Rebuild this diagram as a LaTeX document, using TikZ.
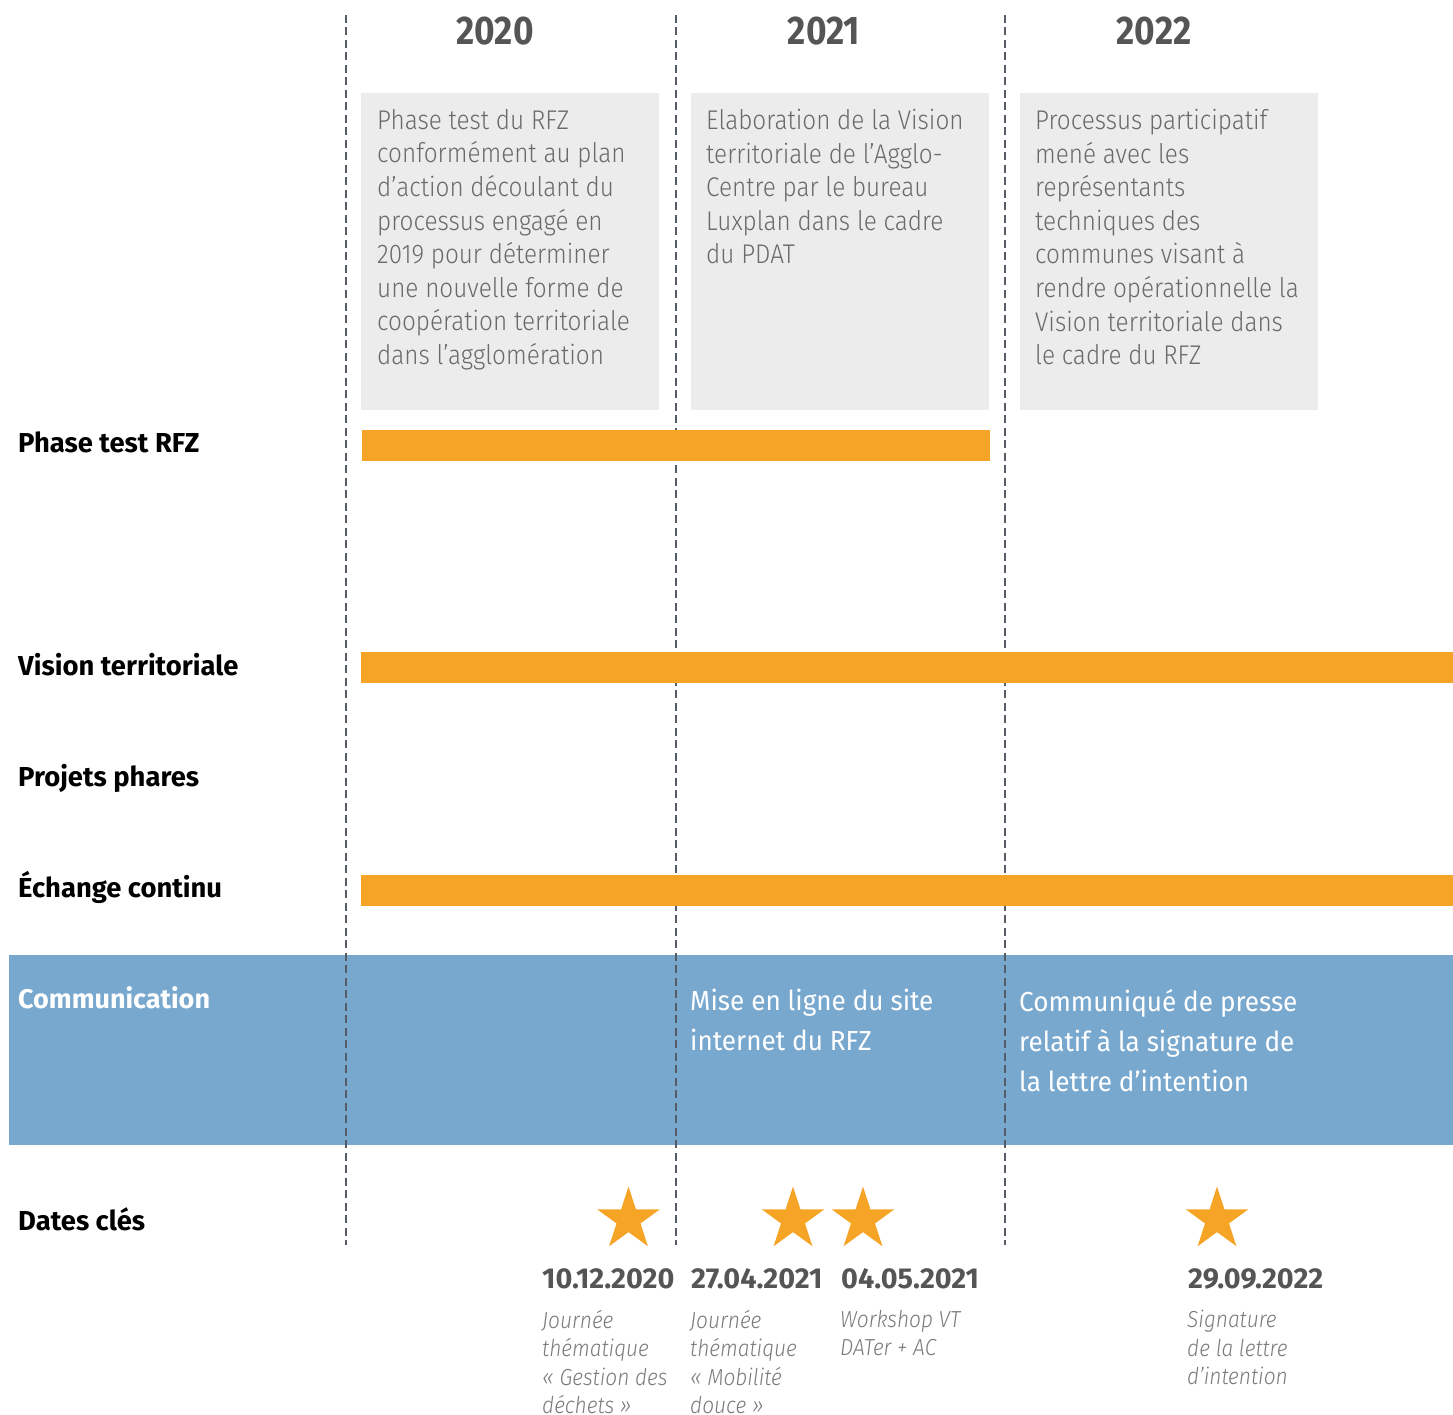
\documentclass[tikz,border=0pt]{standalone}
\usepackage{fontspec}
\setmainfont{Fira Sans}
\newfontfamily\yearf{Fira Sans}[FakeStretch=0.88]
\newfontfamily\commf{Fira Sans}[FakeStretch=0.95]
\IfFontExistsTF{Fira Sans Light}{%
  \IfFontExistsTF{Fira Sans Light Italic}{%
    \newfontfamily\lightf{Fira Sans Light}[FakeStretch=0.9,ItalicFont={Fira Sans Light Italic}]}{%
    \newfontfamily\lightf{Fira Sans Light}[FakeStretch=0.9]}}{%
  \newfontfamily\lightf{Fira Sans}[FakeStretch=0.9]}
\usetikzlibrary{shapes.geometric}
\definecolor{dashc}{HTML}{565B68}
\definecolor{yearc}{HTML}{555555}
\definecolor{boxc}{HTML}{ECECEC}
\definecolor{boxtxtc}{HTML}{6A6A6A}
\definecolor{orangec}{HTML}{F6A425}
\definecolor{bluec}{HTML}{79A8CF}
\definecolor{datec}{HTML}{555555}
\definecolor{descc}{HTML}{7A7A7A}
\begin{document}
\begin{tikzpicture}[x=1pt,y=-1pt,
  yearlbl/.style={font=\yearf\fontsize{40}{48}\selectfont\bfseries, text=yearc, inner sep=0, anchor=base},
  graybox/.style={fill=boxc, draw=none, anchor=north west, inner sep=0},
  boxtxt/.style={font=\lightf\fontsize{27}{33.6}\selectfont, text=boxtxtc, align=left, anchor=north west, inner sep=0},
  rowlbl/.style={font=\fontsize{27.4}{34}\selectfont\bfseries, text=black, anchor=base west, inner sep=0},
  bar/.style={fill=orangec, draw=none, anchor=north west, inner sep=0, minimum height=31pt},
  band/.style={fill=bluec, draw=none, anchor=north west, inner sep=0},
  comm/.style={font=\commf\fontsize{27.5}{40}\selectfont, text=white, align=left, anchor=north west, inner sep=0},
  yline/.style={draw=dashc, line width=2.8pt, dash pattern=on 8pt off 4.5pt},
  starmark/.style={star, star points=5, star point ratio=2.618, minimum size=66pt, inner sep=0, fill=orangec, draw=none},
  datelbl/.style={font=\fontsize{28.8}{34}\selectfont\bfseries, text=datec, anchor=base west, inner sep=0},
  desc/.style={font=\lightf\itshape\fontsize{23.2}{28.5}\selectfont, text=descc, align=left, anchor=north west, inner sep=0}
]
\useasboundingbox (0,0) rectangle (1453,1415);

% communication band (under the dashed lines)
\node[band, minimum width=1444pt, minimum height=190pt] (commband) at (9,955) {};

% dashed year separators
\coordinate (l1t) at (346,15);  \coordinate (l1b) at (346,1245);
\coordinate (l2t) at (676,15);  \coordinate (l2b) at (676,1245);
\coordinate (l3t) at (1005,15); \coordinate (l3b) at (1005,1245);
\draw[yline] (l1t) -- (l1b);
\draw[yline] (l2t) -- (l2b);
\draw[yline] (l3t) -- (l3b);

% years
\node[yearlbl] (y2020) at (495,45) {2020};
\node[yearlbl] (y2021) at (824,45) {2021};
\node[yearlbl] (y2022) at (1154,45) {2022};

% grey boxes
\node[graybox, minimum width=298pt, minimum height=317pt] (box1) at (361,93) {};
\node[graybox, minimum width=298pt, minimum height=317pt] (box2) at (691,93) {};
\node[graybox, minimum width=298pt, minimum height=317pt] (box3) at (1020,93) {};
\node[boxtxt] (t1) at (377,109) {Phase test du RFZ\\conformément au plan\\d’action découlant du\\processus engagé en\\2019 pour déterminer\\une nouvelle forme de\\coopération territoriale\\dans l’agglomération};
\node[boxtxt] (t2) at (706,109) {Elaboration de la Vision\\territoriale de l’Agglo-\\Centre par le bureau\\Luxplan dans le cadre\\du PDAT};
\node[boxtxt] (t3) at (1035,109) {Processus participatif\\mené avec les\\représentants\\techniques des\\communes visant à\\rendre opérationnelle la\\Vision territoriale dans\\le cadre du RFZ};

% row labels
\node[rowlbl] (r1) at (18,452) {Phase test RFZ};
\node[rowlbl] (r2) at (18,675) {Vision territoriale};
\node[rowlbl] (r3) at (18,786) {Projets phares};
\node[rowlbl] (r4) at (18,897) {Échange continu};
\node[rowlbl, text=white, font=\fontsize{27}{34}\selectfont\bfseries] (r5) at (18,1008) {Communication};
\node[rowlbl] (r6) at (18,1230) {Dates clés};

% orange bars
\node[bar, minimum width=628pt] (bar1) at (362,430) {};
\node[bar, minimum width=1092pt] (bar2) at (361,652) {};
\node[bar, minimum width=1092pt] (bar3) at (361,875) {};

% communication texts
\node[comm] (c1) at (690,989) {Mise en ligne du site\\internet du RFZ};
\node[comm] (c2) at (1019,989) {Communiqué de presse\\relatif à la signature de\\la lettre d’intention};

% key dates
\node[starmark] (s1) at (628.5,1219.5) {};
\node[starmark] (s2) at (793,1219.5) {};
\node[starmark] (s3) at (863,1219.5) {};
\node[starmark] (s4) at (1217,1219.5) {};

\node[datelbl] (d1) at (542,1288) {10.12.2020};
\node[datelbl] (d2) at (691,1288) {27.04.2021};
\node[datelbl] (d3) at (841,1288) {04.05.2021};
\node[datelbl] (d4) at (1188,1288) {29.09.2022};

\node[desc] (e1) at (542,1310) {Journée\\thématique\\« Gestion des\\déchets »};
\node[desc] (e2) at (690,1310) {Journée\\thématique\\« Mobilité\\douce »};
\node[desc] (e3) at (840,1310) {Workshop VT\\DATer + AC};
\node[desc] (e4) at (1187,1310) {Signature\\de la lettre\\d’intention};
\end{tikzpicture}
\end{document}
